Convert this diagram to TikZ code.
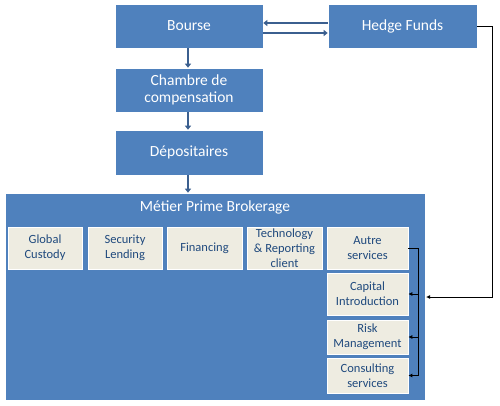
\documentclass[tikz,border=0pt]{standalone}
\usepackage{fontspec}
\setmainfont{Carlito}
\usetikzlibrary{arrows.meta}
\definecolor{boxblue}{HTML}{4F81BD}
\definecolor{arrowblue}{HTML}{3B5F8F}
\definecolor{beige}{HTML}{EEECE1}
\definecolor{textblue}{HTML}{1F497D}
\tikzset{
  bluebox/.style={rectangle, draw=white, line width=0.6pt, fill=boxblue, text=white, font=\fontsize{15.5}{17.5}\selectfont, align=center, inner sep=0pt},
  servbox/.style={rectangle, draw=white, line width=0.6pt, fill=beige, text=textblue, font=\fontsize{12.5}{15}\selectfont, align=center, inner sep=0pt, minimum width=74pt, minimum height=42pt},
  flow/.style={draw=arrowblue, line width=2.7pt, -{Triangle[length=4pt,width=6pt]}},
  link/.style={draw=black, line width=0.9pt, -{Latex[length=4pt,width=4pt]}}
}
\begin{document}
\begin{tikzpicture}[x=1pt,y=-1pt]
\useasboundingbox (0,0) rectangle (500,405);
\node[bluebox, minimum width=148pt, minimum height=44pt] (bourse) at (189,26) {Bourse};
\node[bluebox, minimum width=149pt, minimum height=44pt] (hedge) at (402.5,26) {Hedge Funds};
\node[bluebox, minimum width=148pt, minimum height=44pt] (chambre) at (189,90) {Chambre de\\compensation};
\node[bluebox, minimum width=148pt, minimum height=45pt] (depos) at (189,152.5) {Dépositaires};

%prime brokerage
\node[bluebox, minimum width=420pt, minimum height=207pt] (prime) at (215,296.5) {};
\node[text=white, font=\fontsize{15.5}{17.5}\selectfont] (title) at (215,207) {Métier Prime Brokerage};

%services
\node[servbox] (custody) at (45,248) {Global\\Custody};
\node[servbox] (lending) at (125,248) {Security\\Lending};
\node[servbox, minimum width=75pt] (financing) at (204.5,248) {Financing};
\node[servbox, minimum width=75pt] (techno) at (284.5,248) {Technology\\\& Reporting\\client};
\node[servbox, minimum width=81pt] (autre) at (367.5,248) {Autre\\services};
\node[servbox, minimum width=81pt] (capital) at (367.5,294) {Capital\\Introduction};
\node[servbox, minimum width=81pt, minimum height=34pt] (risk) at (367.5,337) {Risk\\Management};
\node[servbox, minimum width=81pt, minimum height=35pt] (consult) at (367.5,375.5) {Consulting\\services};

%blue arrows
\draw[flow] ([yshift=3pt]hedge.west) -- ([yshift=3pt]bourse.east);     %hedge--bourse
\draw[flow] ([yshift=-7pt]bourse.east) -- ([yshift=-7pt]hedge.west);   %bourse--hedge
\draw[flow] ([xshift=-1pt]bourse.south) -- ([xshift=-1pt]chambre.north);
\draw[flow] ([xshift=-1pt]chambre.south) -- ([xshift=-1pt]depos.north);
\draw[flow] ([xshift=-1pt]depos.south) -- ([xshift=-1pt]depos.south |- prime.north);

%black links
\coordinate (bar) at (418,248);
\coordinate (hedgecorner) at (492,26);
\coordinate (hedgein) at (426,297);
\draw[line width=0.9pt] (autre.east) -- (bar) -- (bar |- consult.east);
\draw[link] (bar |- capital.east) -- (capital.east);
\draw[link] (bar |- risk.east) -- (risk.east);
\draw[link] (bar |- consult.east) -- (consult.east);
\draw[link] (hedge.east) -- (hedgecorner) -- (hedgecorner |- hedgein) -- (hedgein);
\end{tikzpicture}
\end{document}
